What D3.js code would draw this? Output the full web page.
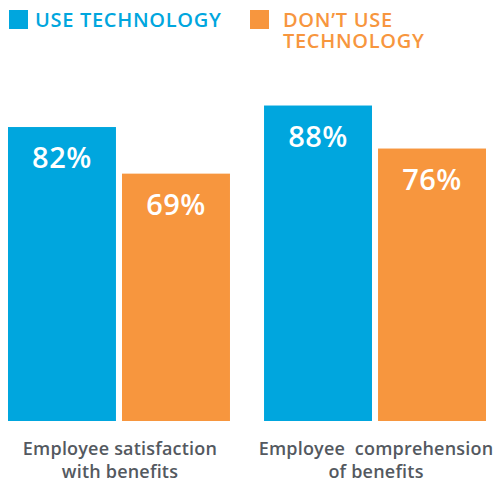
<!DOCTYPE html>
<html>
<head>
<meta charset="utf-8">
<script src="https://cdn.jsdelivr.net/npm/d3@7"></script>
<style>
  html, body { margin: 0; padding: 0; background: #fff; }
  svg { display: block; font-family: "Open Sans", "Noto Sans", sans-serif; }
</style>
</head>
<body>
<svg id="chart" width="495" height="481"></svg>
<script>
// Chart data
const categories = ["Employee satisfaction\nwith benefits", "Employee  comprehension\nof benefits"];
const seriesNames = ["USE TECHNOLOGY", "DON\u2019T USE\nTECHNOLOGY"];
const useTechnology = [82, 88];
const dontUseTechnology = [69, 76];
const seriesColors = ["#00a6de", "#f7963e"];

const svg = d3.select("#chart");

const series = [useTechnology, dontUseTechnology];
const rows = categories.map((c, i) => ({
  category: c,
  values: series.map((s, j) => ({ key: j, value: s[i] }))
}));

// Scales
const x0 = d3.scaleBand().domain(categories).range([8, 486]).paddingInner(0.133).paddingOuter(0);
const x1 = d3.scaleBand().domain([0, 1]).range([0, x0.bandwidth()]).paddingInner(0.053).paddingOuter(0);
const y = d3.scaleLinear().domain([0, 100]).range([421, 62.5]);

// Bars
const groups = svg.append("g").selectAll("g").data(rows).join("g")
  .attr("transform", d => `translate(${x0(d.category)},0)`);

groups.selectAll("rect").data(d => d.values).join("rect")
  .attr("x", d => x1(d.key))
  .attr("y", d => y(d.value))
  .attr("width", x1.bandwidth())
  .attr("height", d => y(0) - y(d.value))
  .attr("fill", d => seriesColors[d.key]);

// Value labels inside bars
groups.selectAll("text.value").data(d => d.values).join("text")
  .attr("class", "value")
  .attr("x", d => x1(d.key) + x1.bandwidth() / 2)
  .attr("y", d => y(d.value) + 41)
  .attr("text-anchor", "middle")
  .attr("fill", "#fff")
  .attr("font-size", 29)
  .attr("font-weight", 600)
  .attr("letter-spacing", 0.5)
  .text(d => d.value + "%");

// Category labels under each group
const catLabels = svg.append("g").selectAll("text").data(categories).join("text")
  .attr("x", d => x0(d) + x0.bandwidth() / 2 + 1)
  .attr("y", 455)
  .attr("text-anchor", "middle")
  .attr("fill", "#54595f")
  .attr("font-size", 18)
  .attr("font-weight", 600)
  .attr("letter-spacing", 0.2)
  .style("white-space", "pre");
catLabels.each(function(d) {
  d3.select(this).selectAll("tspan").data(d.split("\n")).join("tspan")
    .attr("x", d3.select(this).attr("x"))
    .attr("dy", (t, i) => i === 0 ? 0 : 22.5)
    .text(t => t);
});

// Legend
const legendX = [9, 250];
const legend = svg.append("g").selectAll("g").data(seriesNames).join("g")
  .attr("transform", (d, i) => `translate(${legendX[i]},10)`);
legend.append("rect")
  .attr("width", 19).attr("height", 19)
  .attr("fill", (d, i) => seriesColors[i]);
legend.append("text")
  .attr("fill", (d, i) => seriesColors[i])
  .attr("font-size", 20)
  .attr("font-weight", 600)
  .attr("letter-spacing", 0.7)
  .each(function(d, i) {
    d3.select(this).selectAll("tspan").data(d.split("\n")).join("tspan")
      .attr("x", i === 0 ? 26 : 33)
      .attr("y", (t, k) => 17 + k * 21)
      .text(t => t);
  });
</script>
</body>
</html>
